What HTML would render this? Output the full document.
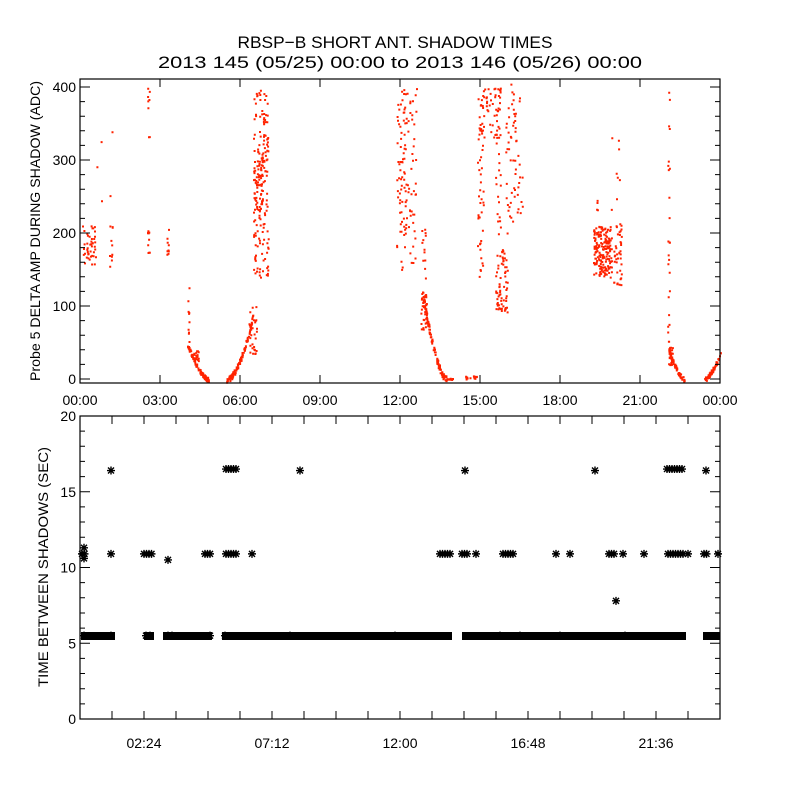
<!DOCTYPE html>
<html><head><meta charset="utf-8"><style>
html,body{margin:0;padding:0;background:#fff;}
svg{display:block;font-family:"Liberation Sans",sans-serif;}
</style></head><body>
<svg id="s" width="800" height="800" viewBox="0 0 800 800" xmlns="http://www.w3.org/2000/svg">
<rect width="800" height="800" fill="#fff"/>
<defs>
<g id="st"><path d="M-4,0H4M0,-4V4M-3,-3L3,3M-3,3L3,-3" stroke="#000" stroke-width="1.4" fill="none"/></g>
</defs>
<text x="395" y="48" font-size="17" text-anchor="middle" textLength="315" lengthAdjust="spacingAndGlyphs">RBSP−B SHORT ANT. SHADOW TIMES</text>
<text x="400" y="68" font-size="17" text-anchor="middle" textLength="484" lengthAdjust="spacingAndGlyphs">2013 145 (05/25) 00:00 to 2013 146 (05/26) 00:00</text>
<g id="gtop"></g>
<g id="bot"></g>
<g stroke="#000" fill="none" stroke-width="1.2">
<rect x="80" y="79" width="640" height="304"/>
<rect x="80" y="416" width="640" height="303"/>
</g>
<g id="ax" stroke="#000" stroke-width="1"></g>
<g font-size="14" text-anchor="middle" id="lab"></g>
<text transform="translate(40,231) rotate(-90)" font-size="14" text-anchor="middle" textLength="300" lengthAdjust="spacingAndGlyphs">Probe 5 DELTA AMP DURING SHADOW (ADC)</text>
<text transform="translate(48,567) rotate(-90)" font-size="14" text-anchor="middle" textLength="240" lengthAdjust="spacingAndGlyphs">TIME BETWEEN SHADOWS (SEC)</text>
</svg>
<script>
(function(){
var NS="http://www.w3.org/2000/svg";
function el(p,t,a,txt){var e=document.createElementNS(NS,t);for(var k in a)e.setAttribute(k,a[k]);if(txt)e.textContent=txt;document.getElementById(p).appendChild(e);return e;}
var seed=7;function r(){seed=(seed*16807)%2147483647;return seed/2147483647;}
function Y(v){return 379-v*0.73;}
var tp="";
function pt(x,v){tp+="M"+x.toFixed(1)+","+Y(v).toFixed(1)+"h2v2h-2z";}
function cloud(x0,x1,v0,v1,n){for(var i=0;i<n;i++)pt(x0+r()*(x1-x0),v0+r()*(v1-v0));}
function arc(x0,x1,v0,v1,n,p,w){for(var i=0;i<n;i++){var t=r();var x=x0+t*(x1-x0);var f=Math.pow(1-t,p);pt(x,v1+(v0-v1)*f+(r()-0.5)*w);}}
cloud(82,95,155,215,45);cloud(109,112,155,215,10);cloud(147,149,165,205,10);cloud(147,149,330,405,8);
cloud(166,168,155,208,10);cloud(81,112,230,340,5);cloud(187,189,50,130,10);
arc(187,208,48,0,90,1.6,6);cloud(193,198,25,40,20);
arc(252,226,85,0,110,1.8,8);cloud(248,256,35,100,30);
cloud(253,268,140,400,170);cloud(256,262,230,300,40);
cloud(396,405,150,400,60);cloud(403,416,160,400,60);cloud(421,425,130,210,12);
arc(422,446,120,0,120,1.7,10);cloud(420,426,65,120,35);cloud(446,452,0,2,10);cloud(465,476,0,5,15);
cloud(477,483,140,400,50);cloud(480,500,330,405,40);cloud(495,507,90,180,70);cloud(495,500,190,400,30);
cloud(505,522,200,400,50);cloud(510,515,330,405,10);
cloud(593,611,140,210,180);cloud(613,621,130,215,40);cloud(610,620,230,380,8);cloud(595,597,230,260,4);
cloud(667,669,50,400,25);arc(668,684,40,0,60,1.5,6);cloud(668,672,20,45,25);
arc(720,704,35,0,70,1.4,6);
el("gtop","path",{d:tp,fill:"#ff2200"});
var bot="";
function bar(x0,x1){bot+="M"+x0+",632h"+(x1-x0)+"v8h-"+(x1-x0)+"z";}
bar(81,115);bar(144,154);bar(163,212);bar(222,452);bar(462,686);bar(703,720);
el("bot","path",{d:bot,fill:"#000"});
function YB(v){return 719-v*15.15;}
function stars(xs,v){xs.forEach(function(x){el("bot","use",{href:"#st",x:x,y:YB(v)});});}
function srange(x0,x1,v){for(var x=x0;x<=x1;x+=2.5)stars([x],v);}
srange(82,86,10.9);stars([84],11.3);stars([84],10.6);stars([111],10.9);srange(144,153,10.9);srange(205,211,10.9);
srange(226,236,10.9);stars([252],10.9);srange(440,452,10.9);srange(462,468,10.9);stars([476],10.9);
srange(503,515,10.9);stars([556,570],10.9);srange(609,616,10.9);stars([623,644],10.9);srange(668,684,10.9);stars([688],10.9);
srange(704,708,10.9);stars([718],10.9);
stars([111,300,465,595,706],16.4);srange(667,684,16.5);srange(226,236,16.5);
stars([168],10.5);stars([616],7.8);
stars([84,111,146,150,168,172,210,225,290,395,500,520,560,625],5.5);
var a="";
for(var i=0;i<=8;i++){var x=80+i*80;a+="M"+x+",383v-8M"+x+",79v8";}
for(var v=0;v<=400;v+=20){var y=Y(v),L=(v%100==0)?10:5;a+="M80,"+y.toFixed(1)+"h"+L+"M720,"+y.toFixed(1)+"h-"+L;}
for(var i=0;i<=20;i++){var x=80+i*32;a+="M"+x+",719v-8M"+x+",416v8";}
for(var v=0;v<=20;v++){var y=YB(v),L=(v%5==0)?10:5;a+="M80,"+y.toFixed(1)+"h"+L+"M720,"+y.toFixed(1)+"h-"+L;}
el("ax","path",{d:a,fill:"none"});
var tl=["00:00","03:00","06:00","09:00","12:00","15:00","18:00","21:00","00:00"];
for(var i=0;i<=8;i++)el("lab","text",{x:80+i*80,y:405},tl[i]);
[0,100,200,300,400].forEach(function(v){el("lab","text",{x:76,y:Y(v)+5,"text-anchor":"end"},""+v);});
["02:24","07:12","12:00","16:48","21:36"].forEach(function(s,i){el("lab","text",{x:144+i*128,y:748},s);});
[0,5,10,15,20].forEach(function(v){el("lab","text",{x:76,y:YB(v)+5,"text-anchor":"end"},""+v);});
})();
</script>
</body></html>
